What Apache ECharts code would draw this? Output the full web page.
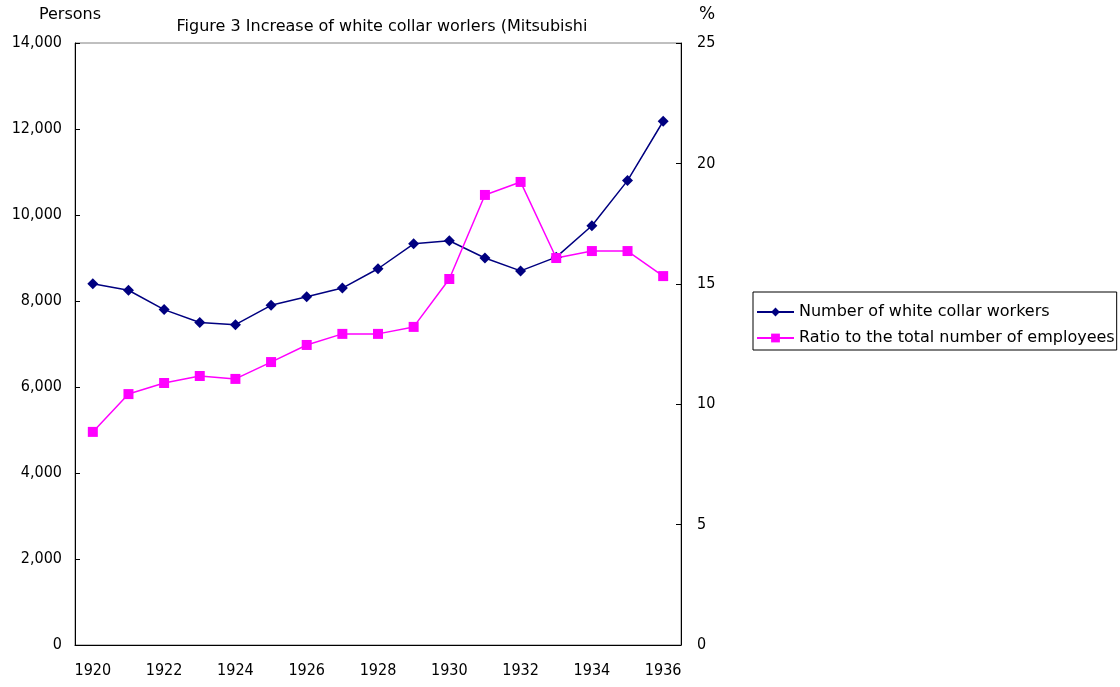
<!DOCTYPE html>
<html>
<head>
<meta charset="utf-8">
<script src="https://cdn.jsdelivr.net/npm/echarts@6/dist/echarts.min.js"></script>
<style>html,body{margin:0;padding:0;background:#fff}#c{width:1120px;height:687px}</style>
</head>
<body>
<div id="c"></div>
<script>
const years = ['1920','1921','1922','1923','1924','1925','1926','1927','1928','1929','1930','1931','1932','1933','1934','1935','1936'];
const workers = [8400, 8250, 7800, 7500, 7450, 7900, 8100, 8300, 8750, 9330, 9400, 9000, 8700, 9020, 9750, 10800, 12180];
const ratio = [8.85, 10.42, 10.88, 11.17, 11.05, 11.75, 12.46, 12.92, 12.92, 13.21, 15.2, 18.69, 19.23, 16.07, 16.36, 16.36, 15.32];
const titleText = 'Figure 3 Increase of white collar worlers (Mitsubishi';
const seriesNames = ['Number of white collar workers', 'Ratio to the total number of employees'];

const NUMFONT = '"DejaVu Sans Condensed", "Liberation Sans", sans-serif';
const TXTFONT = '"DejaVu Sans", "Liberation Sans", sans-serif';
const chart = echarts.init(document.getElementById('c'));
chart.setOption({
  backgroundColor: '#fff',
  animation: false,
  textStyle: {fontFamily: TXTFONT, color: '#000'},
  title: {
    text: titleText, left: 377, top: 14, textAlign: 'center',
    textStyle: {fontSize: 16, fontWeight: 'normal', color: '#000', fontFamily: TXTFONT}
  },
  legend: {
    orient: 'vertical', left: 753, top: 292, itemGap: 10,
    borderColor: '#000', borderWidth: 1, padding: [12, 2, 4, 3],
    itemWidth: 37, itemHeight: 11,
    textStyle: {fontSize: 16, color: '#000', fontFamily: TXTFONT},
    data: seriesNames
  },
  grid: {left: 75, right: 439, top: 43, bottom: 42, show: true, borderColor: '#808080', borderWidth: 1},
  xAxis: {
    type: 'category', data: years, boundaryGap: true,
    axisLine: {lineStyle: {color: '#000', width: 1}},
    axisTick: {inside: true, interval: 0, length: 5, lineStyle: {color: '#000'}},
    axisLabel: {interval: 1, color: '#000', fontSize: 16, margin: 18, fontFamily: NUMFONT},
    splitLine: {show: false}
  },
  yAxis: [{
    type: 'value', min: 0, max: 14000, interval: 2000, name: 'Persons',
    nameLocation: 'end', nameGap: 20, nameTextStyle: {color: '#000', fontSize: 16, align: 'center', padding: [0, 0, 0, -10], fontFamily: TXTFONT},
    axisLine: {show: true, lineStyle: {color: '#000'}},
    axisTick: {show: true, inside: true, length: 5, lineStyle: {color: '#000'}},
    axisLabel: {color: '#000', fontSize: 16, margin: 13, fontFamily: NUMFONT,
      formatter: v => v.toLocaleString('en-US')},
    splitLine: {show: false}
  }, {
    type: 'value', min: 0, max: 25, interval: 5, name: '%', position: 'right',
    nameLocation: 'end', nameGap: 20, nameTextStyle: {color: '#000', fontSize: 17, align: 'center', padding: [0, 0, 0, 52], fontFamily: TXTFONT},
    axisLine: {show: true, lineStyle: {color: '#000'}},
    axisTick: {show: true, inside: true, length: 5, lineStyle: {color: '#000'}},
    axisLabel: {color: '#000', fontSize: 16, margin: 16, fontFamily: NUMFONT},
    splitLine: {show: false}
  }],
  series: [{
    name: seriesNames[0], type: 'line', yAxisIndex: 0, data: workers,
    symbol: 'diamond', symbolSize: 11, showAllSymbol: true,
    lineStyle: {color: '#000080', width: 1.5},
    itemStyle: {color: '#000080'}
  }, {
    name: seriesNames[1], type: 'line', yAxisIndex: 1, data: ratio,
    symbol: 'rect', symbolSize: 10, showAllSymbol: true,
    lineStyle: {color: '#ff00ff', width: 1.5},
    itemStyle: {color: '#ff00ff'}
  }]
});
</script>
</body>
</html>
